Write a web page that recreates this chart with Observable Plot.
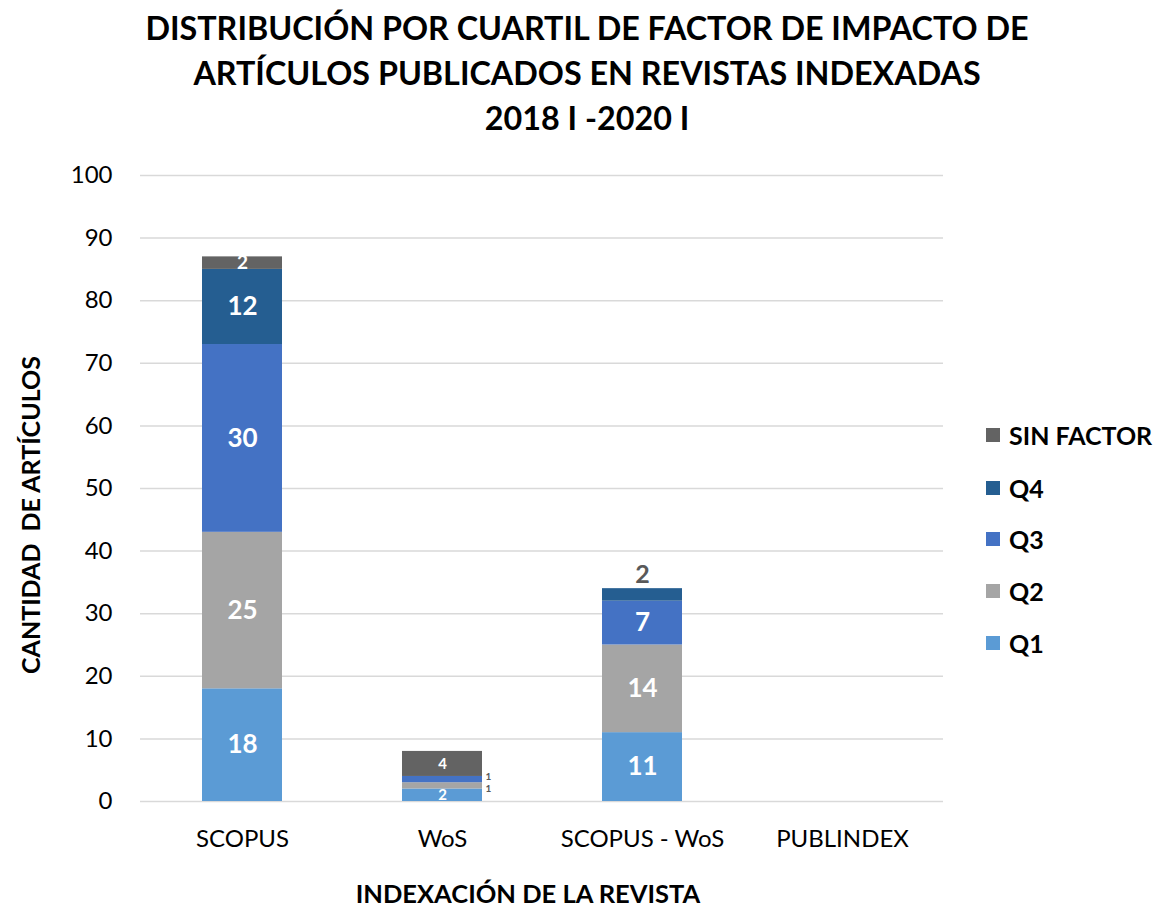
<!DOCTYPE html>
<html>
<head>
<meta charset="utf-8">
<script src="https://cdn.jsdelivr.net/npm/d3@7"></script>
<script src="https://cdn.jsdelivr.net/npm/@observablehq/plot@0.6"></script>
<style>
  html, body { margin: 0; padding: 0; background: #fff; }
  #wrap { position: relative; width: 1165px; height: 911px; font-family: Lato, "Open Sans", sans-serif; overflow: hidden; }
  #title { position: absolute; left: 0; top: 5px; width: 1174px; text-align: center; font-weight: bold; font-size: 32.3px; line-height: 45px; color: #000; }
  #chart { position: absolute; left: 0; top: 140px; }
  #ytitle { position: absolute; left: 30px; top: 515px; transform: translate(-50%, -50%) rotate(-90deg); white-space: pre; font-weight: bold; font-size: 25px; color: #000; }
  #xtitle { position: absolute; left: 528px; top: 893px; transform: translate(-50%, -50%); white-space: nowrap; font-weight: bold; font-size: 25.5px; color: #000; }
  #legend { position: absolute; left: 986px; top: 0; }
  .li { position: absolute; left: 0; display: flex; align-items: center; white-space: nowrap; font-weight: bold; font-size: 25px; color: #000; transform: translateY(-50%); }
  .sw { width: 14px; height: 14px; margin-right: 9px; }
</style>
</head>
<body>
<div id="wrap">
  <div id="title">DISTRIBUCIÓN POR CUARTIL DE FACTOR DE IMPACTO DE<br>ARTÍCULOS PUBLICADOS EN REVISTAS INDEXADAS<br>2018 I -2020 I</div>
  <div id="chart"></div>
  <div id="ytitle">CANTIDAD  DE ARTÍCULOS</div>
  <div id="xtitle">INDEXACIÓN DE LA REVISTA</div>
  <div id="legend"></div>
</div>
<script>
const categories = ["SCOPUS", "WoS", "SCOPUS - WoS", "PUBLINDEX"];
const series = ["Q1", "Q2", "Q3", "Q4", "SIN FACTOR"];
const q1 = [18, 2, 11, 0];
const q2 = [25, 1, 14, 0];
const q3 = [30, 1, 7, 0];
const q4 = [12, 0, 2, 0];
const sinFactor = [2, 4, 0, 0];
const yTicks = [0, 10, 20, 30, 40, 50, 60, 70, 80, 90, 100];
const colors = ["#5B9BD5", "#A5A5A5", "#4472C4", "#255E91", "#636363"];

const valuesBySeries = [q1, q2, q3, q4, sinFactor];
const rows = [];
categories.forEach((cat, i) => {
  series.forEach((s, j) => rows.push({cat, series: s, value: valuesBySeries[j][i]}));
});

const stack = (extra = {}) => Plot.stackY({x: "cat", y: "value", z: "series", order: series, ...extra});
const lab = (cond) => (d) => cond(d) ? String(d.value) : "";

const chart = Plot.plot({
  width: 1165,
  height: 771,
  marginLeft: 140,
  marginRight: 222,
  marginTop: 35,
  marginBottom: 110,
  style: {fontFamily: "Lato, 'Open Sans', sans-serif", fontSize: "24px", color: "#000", background: "#fff"},
  x: {domain: categories, paddingInner: 0.6, paddingOuter: 0.3, label: null},
  y: {domain: [0, 100], label: null},
  color: {domain: series, range: colors},
  marks: [
    Plot.gridY(yTicks, {stroke: "#d9d9d9", strokeOpacity: 1, strokeWidth: 1.5}),
    Plot.axisY(yTicks, {tickSize: 0, tickPadding: 28, fontSize: 24, label: null}),
    Plot.axisX({tickSize: 0, tickPadding: 28, fontSize: 24, label: null}),
    Plot.barY(rows, stack({fill: "series"})),
    Plot.text(rows, stack({text: lab(d => d.value >= 5), fill: "white", fontWeight: "bold", fontSize: 26})),
    Plot.text(rows, stack({text: lab(d => d.cat === "WoS" && d.value >= 2), fill: "white", fontWeight: "bold", fontSize: 15})),
    Plot.text(rows, stack({text: lab(d => d.cat === "WoS" && d.series === "Q3" && d.value === 1), fill: "#595959", fontWeight: "bold", fontSize: 10, dx: 46, dy: -2.5})),
    Plot.text(rows, stack({text: lab(d => d.cat === "WoS" && d.series === "Q2" && d.value === 1), fill: "#595959", fontWeight: "bold", fontSize: 10, dx: 46, dy: 2.5})),
    Plot.text(rows, stack({text: lab(d => d.cat === "SCOPUS" && d.series === "SIN FACTOR"), fill: "white", fontWeight: "bold", fontSize: 19})),
    Plot.text(rows, Plot.stackY2({x: "cat", y: "value", z: "series", order: series,
      text: lab(d => d.cat === "SCOPUS - WoS" && d.series === "Q4"), fill: "#595959", fontWeight: "bold", fontSize: 25, dy: -14}))
  ]
});
document.getElementById("chart").appendChild(chart);

// Legend (top to bottom: reverse stacking order)
const legend = document.getElementById("legend");
const legendYs = [643, 591, 539, 488, 435];
series.forEach((s, j) => {
  const item = document.createElement("div");
  item.className = "li";
  item.style.top = legendYs[j] + "px";
  const sw = document.createElement("div");
  sw.className = "sw";
  sw.style.background = colors[j];
  const t = document.createElement("span");
  t.textContent = s;
  item.appendChild(sw);
  item.appendChild(t);
  legend.appendChild(item);
});
</script>
</body>
</html>
